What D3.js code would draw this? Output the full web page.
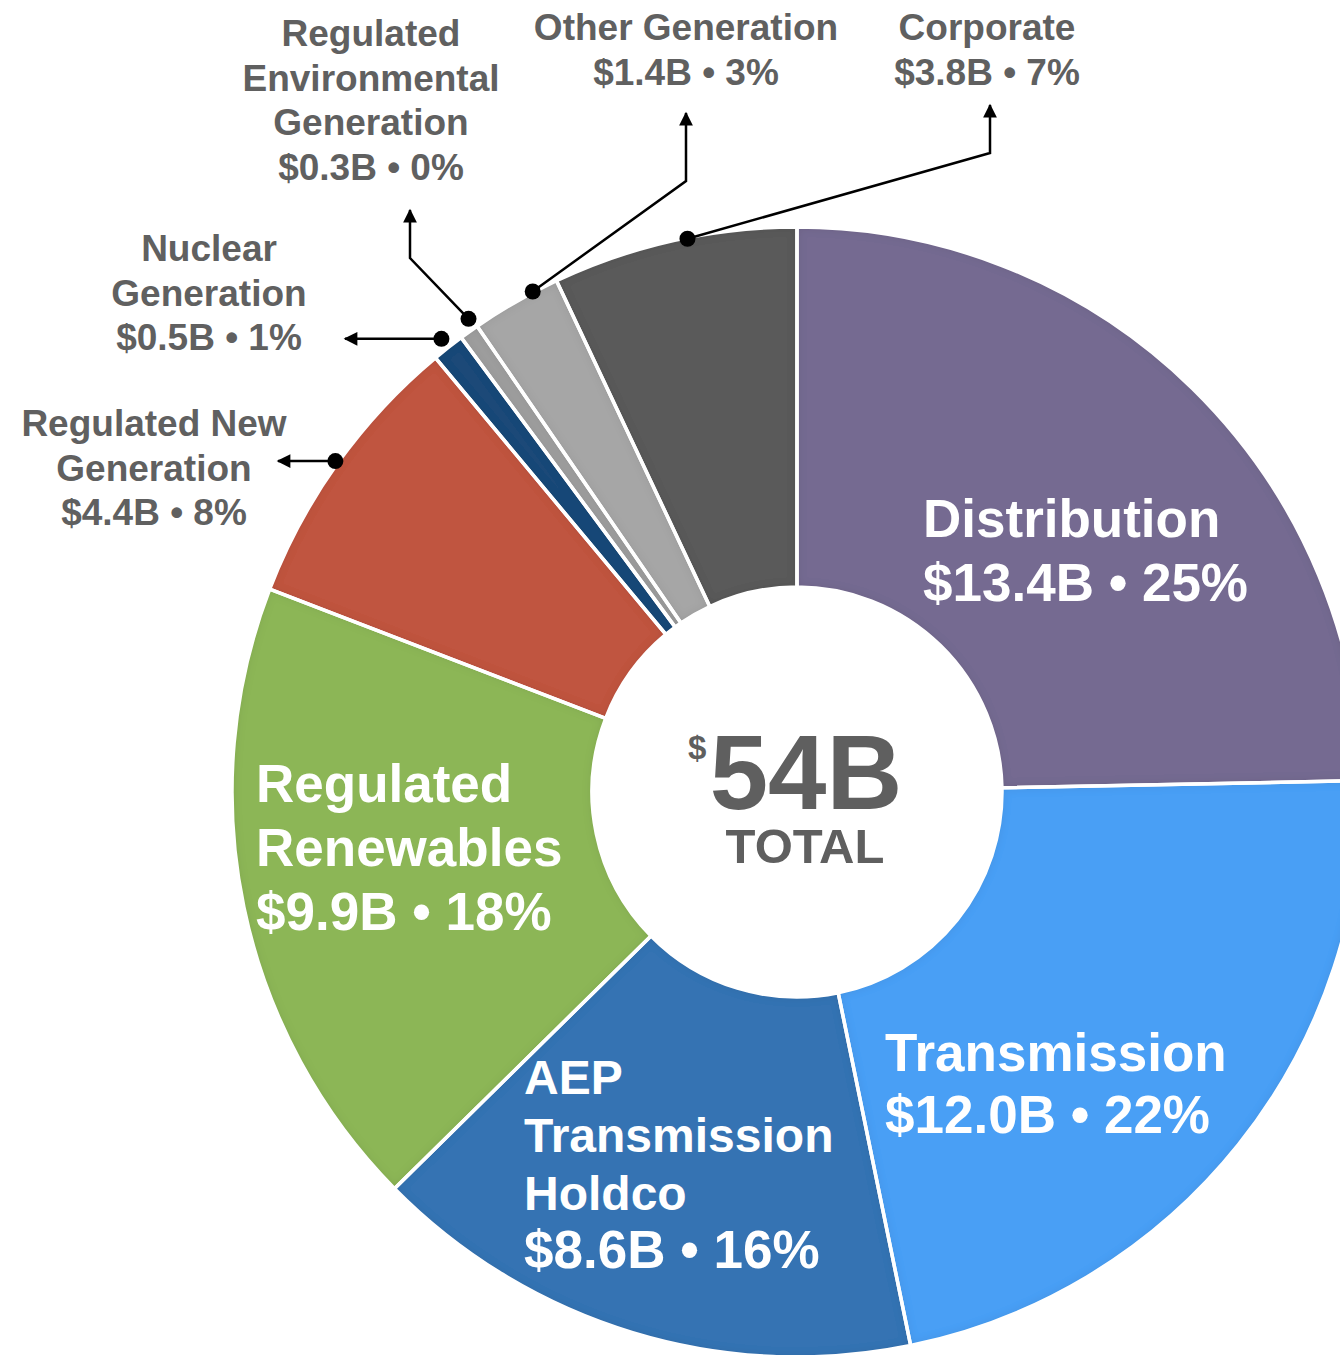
<!DOCTYPE html>
<html>
<head>
<meta charset="utf-8">
<script src="https://cdn.jsdelivr.net/npm/d3@7"></script>
<style>
  html, body { margin: 0; padding: 0; background: #fff; }
  svg { display: block; font-family: Arial, "Liberation Sans", sans-serif; font-weight: bold; }
</style>
</head>
<body>
<div id="chart"></div>
<script>
// Capital plan by segment, $B, clockwise from 12 o'clock
const segments = [
  'Distribution', 'Transmission', 'AEP Transmission Holdco', 'Regulated Renewables',
  'Regulated New Generation', 'Nuclear Generation', 'Regulated Environmental Generation',
  'Other Generation', 'Corporate',
];
const values = [13.4, 12.0, 8.6, 9.9, 4.4, 0.5, 0.3, 1.4, 3.8];
const percents = [25, 22, 16, 18, 8, 1, 0, 3, 7];
const nameLines = [
  ['Distribution'], ['Transmission'], ['AEP', 'Transmission', 'Holdco'], ['Regulated', 'Renewables'],
  ['Regulated New', 'Generation'], ['Nuclear', 'Generation'], ['Regulated', 'Environmental', 'Generation'],
  ['Other Generation'], ['Corporate'],
];
const colors = ['#746a91', '#4a9ff5', '#3573b3', '#8cb656', '#c05541', '#1d4a78', '#9e9e9e', '#a6a6a6', '#5a5a5a'];
const totalText = '54B';

const width = 1340, height = 1355;
const cx = 797, cy = 792, rOuter = 565, rInner = 205;

// label layout: inside = white text in slice, otherwise callout with leader line
const layout = [
  { inside: true, x: 923, y: 537, size: 53, lh: 64 },
  { inside: true, x: 885, y: 1071, size: 53, lh: 62 },
  { inside: true, x: 524, y: 1094, size: 48, valueSize: 53, lh: 58 },
  { inside: true, x: 256, y: 802, size: 53, lh: 64 },
  { x: 154, y: 436, dotR: 568, dotA: 0, elbow: null, tip: [278, null] },
  { x: 209, y: 261, dotR: 576, dotA: 0, elbow: null, tip: [345, null] },
  { x: 371, y: 46, dotR: 576, dotA: 0.7, elbow: [410, 258], tip: [410, 210] },
  { x: 686, y: 40, dotR: 566, dotA: 2, elbow: [686, 181], tip: [686, 113] },
  { x: 987, y: 40, dotR: 564, dotA: 1.4, elbow: [990, 153], tip: [990, 105] },
];

const data = segments.map((name, i) => ({
  name, value: values[i], pct: percents[i], lines: nameLines[i], color: colors[i], lay: layout[i],
}));

const svg = d3.select('#chart').append('svg')
  .attr('width', width).attr('height', height)
  .attr('viewBox', `0 0 ${width} ${height}`);

const defs = svg.append('defs');
defs.append('marker')
  .attr('id', 'arrow')
  .attr('viewBox', '0 0 10 10')
  .attr('refX', 9).attr('refY', 5)
  .attr('markerWidth', 6).attr('markerHeight', 5.5)
  .attr('markerUnits', 'strokeWidth')
  .attr('orient', 'auto')
  .append('path').attr('d', 'M0,0 L10,5 L0,10 Z').attr('fill', '#000');

// soft inner shading on the slices
const f = defs.append('filter').attr('id', 'inset').attr('x', '-5%').attr('y', '-5%').attr('width', '110%').attr('height', '110%');
f.append('feGaussianBlur').attr('in', 'SourceAlpha').attr('stdDeviation', 5).attr('result', 'blur');
f.append('feComposite').attr('in', 'SourceAlpha').attr('in2', 'blur').attr('operator', 'out').attr('result', 'edge');
f.append('feFlood').attr('flood-color', '#000').attr('flood-opacity', 0.22);
f.append('feComposite').attr('in2', 'edge').attr('operator', 'in').attr('result', 'shade');
const m = f.append('feMerge');
m.append('feMergeNode').attr('in', 'SourceGraphic');
m.append('feMergeNode').attr('in', 'shade');

const pie = d3.pie().value((d) => d.value).sort(null).startAngle(0).endAngle(2 * Math.PI);
const arcs = pie(data);
const arc = d3.arc().innerRadius(rInner).outerRadius(rOuter);

const g = svg.append('g').attr('transform', `translate(${cx},${cy})`);

g.selectAll('path.slice')
  .data(arcs)
  .join('path')
  .attr('class', 'slice')
  .attr('d', arc)
  .attr('fill', (d) => d.data.color)
  .attr('filter', 'url(#inset)');

g.selectAll('path.sep')
  .data(arcs)
  .join('path')
  .attr('class', 'sep')
  .attr('d', arc)
  .attr('fill', 'none')
  .attr('stroke', '#fff')
  .attr('stroke-width', 3.5)
  .attr('stroke-linejoin', 'round');

// center total
const center = svg.append('g').attr('fill', '#5f5f5f');
center.append('text')
  .attr('x', cx + 9).attr('y', cy + 17)
  .attr('text-anchor', 'middle')
  .attr('font-size', 105)
  .text(totalText);
center.append('text')
  .attr('x', cx - 109).attr('y', cy - 33)
  .attr('font-size', 33)
  .text('$');
center.append('text')
  .attr('x', cx + 8).attr('y', cy + 71)
  .attr('text-anchor', 'middle')
  .attr('font-size', 49)
  .text('TOTAL');

const valueText = (d) => `$${d.value.toFixed(1)}B \u2022 ${d.pct}%`;

// labels inside slices
arcs.filter((d) => d.data.lay.inside).forEach((d) => {
  const L = d.data.lay;
  const t = svg.append('text')
    .attr('x', L.x).attr('y', L.y)
    .attr('fill', '#fff')
    .attr('font-size', L.size);
  d.data.lines.forEach((line, i) => {
    t.append('tspan').attr('x', L.x).attr('y', L.y + i * L.lh).text(line);
  });
  t.append('tspan')
    .attr('x', L.x).attr('y', L.y + d.data.lines.length * L.lh)
    .attr('font-size', L.valueSize || L.size)
    .text(valueText(d.data));
});

// callouts
const callouts = svg.append('g');
arcs.filter((d) => !d.data.lay.inside).forEach((d) => {
  const L = d.data.lay;
  const a = (d.startAngle + d.endAngle) / 2 + (L.dotA * Math.PI) / 180;
  const dot = [cx + L.dotR * Math.sin(a), cy - L.dotR * Math.cos(a)];
  const tip = [L.tip[0], L.tip[1] == null ? dot[1] : L.tip[1]];
  const pts = [dot];
  if (L.elbow) pts.push(L.elbow);
  pts.push(tip);

  callouts.append('path')
    .attr('d', d3.line()(pts))
    .attr('fill', 'none')
    .attr('stroke', '#000')
    .attr('stroke-width', 2.5)
    .attr('marker-end', 'url(#arrow)');
  callouts.append('circle')
    .attr('cx', dot[0]).attr('cy', dot[1])
    .attr('r', 8)
    .attr('fill', '#000');

  const t = callouts.append('text')
    .attr('text-anchor', 'middle')
    .attr('fill', '#606060')
    .attr('font-size', 37);
  [...d.data.lines, valueText(d.data)].forEach((line, i) => {
    t.append('tspan').attr('x', L.x).attr('y', L.y + i * 44.5).text(line);
  });
});
</script>
</body>
</html>
